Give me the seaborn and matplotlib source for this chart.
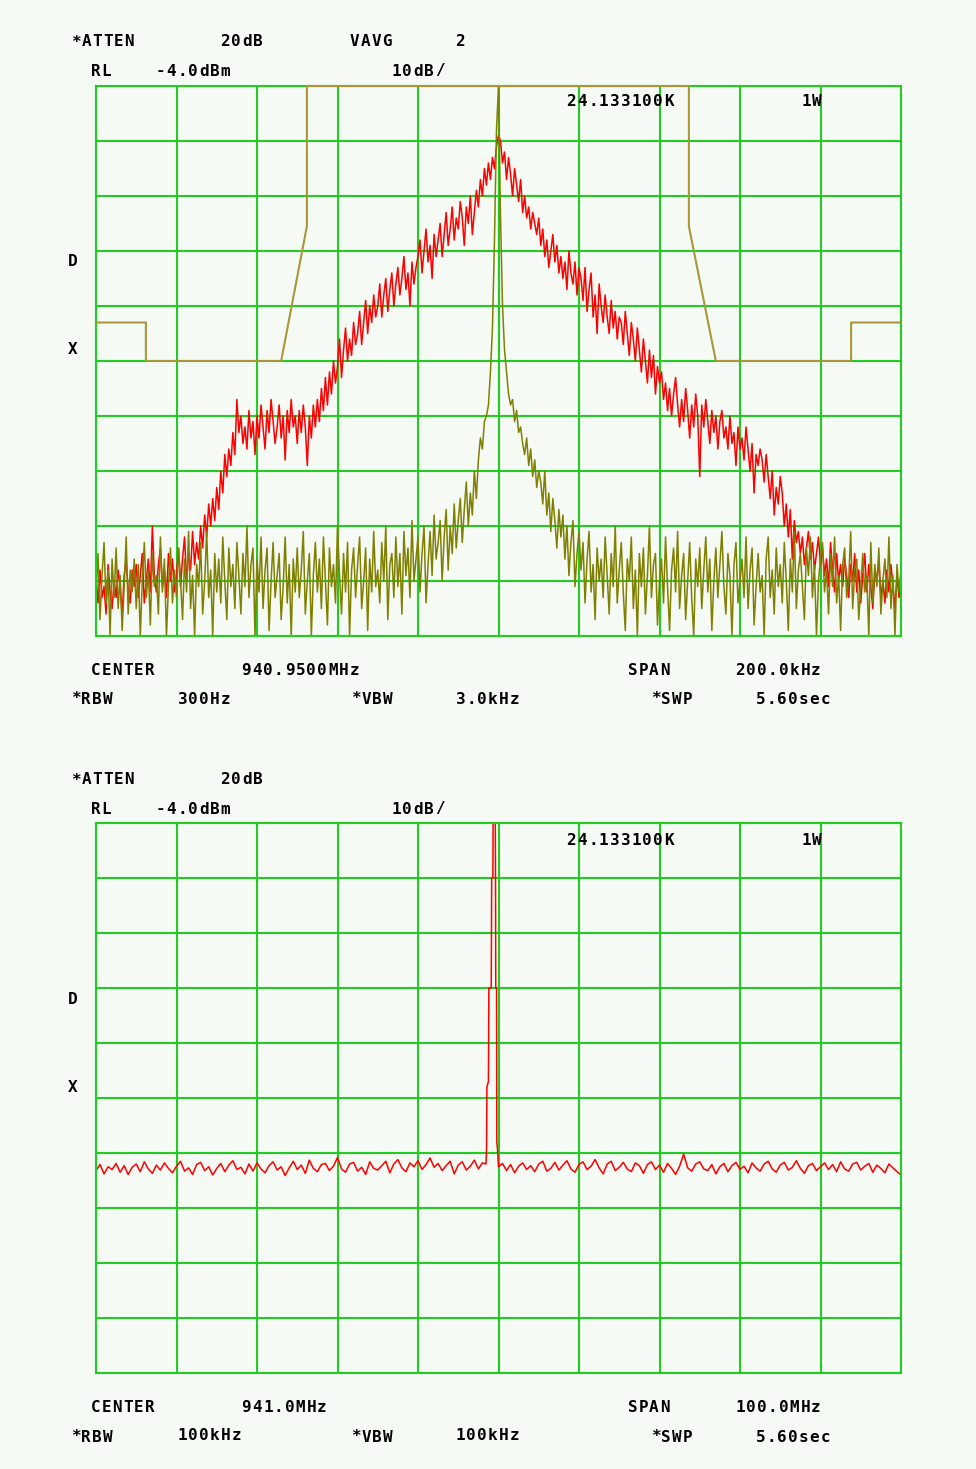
import numpy as np
import pandas as pd
import matplotlib.pyplot as plt
import seaborn as sns

# ---- sweep 1: span 200 kHz around 940.95 MHz, one point per 0.5 kHz ----
top_offset_khz = np.arange(-100, 100.25, 0.5)

top_red_db = [
    -93, -98, -92, -97, -95, -100, -91, -96, -99, -94,
    -97, -92, -95, -100, -93, -90, -96, -98, -92, -95,
    -91, -97, -93, -89, -98, -94, -90, -96, -84, -93,
    -96, -91, -88, -95, -92, -97, -89, -94, -90, -96,
    -93, -88, -95, -90, -86, -94, -89, -92, -85, -91,
    -87, -90, -84, -88, -82, -86, -80, -84, -79, -83,
    -77, -81, -74, -78, -71, -75, -70, -73, -67, -71,
    -61, -67, -64, -69, -66, -70, -63, -68, -65, -71,
    -64, -68, -62, -66, -70, -63, -67, -61, -65, -69,
    -66, -62, -68, -64, -72, -63, -67, -61, -66, -64,
    -69, -63, -67, -62, -66, -73, -64, -68, -62, -66,
    -61, -65, -59, -63, -57, -62, -56, -60, -54, -58,
    -55, -50, -57, -52, -48, -54, -50, -53, -47, -51,
    -49, -45, -51, -47, -43, -49, -44, -47, -42, -46,
    -44, -40, -46, -42, -39, -45, -41, -38, -44, -40,
    -37, -42, -39, -35, -41, -38, -44, -36, -40, -37,
    -35, -32, -38, -34, -30, -36, -33, -39, -31, -35,
    -32, -29, -35, -31, -27, -33, -30, -26, -32, -28,
    -30, -25, -28, -33, -26, -29, -24, -31, -27, -23,
    -26, -21, -24, -19, -22, -18, -21, -17, -19, -15,
    -13,
    -14, -18, -16, -21, -17, -20, -24, -19, -22, -25,
    -21, -27, -24, -28, -26, -30, -27, -29, -31, -28,
    -33, -30, -35, -32, -37, -34, -31, -36, -33, -38,
    -35, -39, -36, -41, -34, -38, -40, -36, -42, -37,
    -39, -43, -37, -45, -41, -38, -46, -42, -49, -40,
    -44, -47, -42, -46, -49, -43, -48, -45, -50, -46,
    -47, -51, -45, -49, -53, -47, -50, -54, -48, -52,
    -56, -50, -54, -58, -52, -57, -53, -60, -55, -58,
    -56, -61, -58, -63, -59, -64, -60, -57, -62, -66,
    -61, -65, -59, -63, -68, -62, -66, -60, -64, -75,
    -62, -66, -61, -65, -69, -63, -67, -64, -70, -65,
    -63, -68, -66, -70, -64, -69, -67, -73, -66, -70,
    -68, -72, -66, -70, -74, -69, -78, -71, -73, -70,
    -72, -76, -71, -75, -79, -74, -82, -77, -80, -75,
    -78, -84, -80, -86, -81, -90, -83, -87, -85, -89,
    -86, -91, -88, -85, -90, -87, -92, -89, -86, -91,
    -88, -93, -90, -95, -87, -92, -96, -89, -94, -91,
    -95, -90, -93, -97, -91, -94, -89, -96, -92, -98,
    -93, -89, -96, -91, -95, -99, -92, -94, -90, -97,
    -94, -98, -92, -96, -91, -95, -99, -93, -97, -94,
]

top_olive_db = [
    -96, -89, -101, -93, -87, -98, -92, -104, -90, -97,
    -88, -99, -93, -103, -95, -86, -100, -92, -96, -90,
    -99, -91, -104, -94, -87, -97, -92, -102, -89, -95,
    -93, -100, -86, -96, -90, -104, -95, -88, -98, -92,
    -97, -88, -94, -101, -90, -96, -85, -99, -93, -104,
    -91, -95, -87, -100, -94, -85, -97, -92, -104, -89,
    -96, -90, -98, -86, -94, -101, -88, -95, -91, -99,
    -87, -93, -100, -89, -95, -84, -97, -91, -88, -104,
    -90, -96, -86, -99, -92, -88, -103, -94, -87, -97,
    -93, -89, -101, -95, -86, -98, -91, -104, -90, -96,
    -88, -97, -92, -85, -100, -94, -89, -104, -93, -87,
    -96, -90, -99, -86, -94, -102, -88, -95, -91, -98,
    -84, -93, -100, -89, -96, -87, -104, -92, -88, -97,
    -91, -86, -99, -94, -88, -103, -90, -96, -85, -95,
    -92, -98, -87, -94, -84, -101, -91, -89, -97, -86,
    -95, -89, -100, -85, -93, -88, -97, -83, -94, -90,
    -86, -96, -89, -84, -98, -91, -85, -93, -82, -90,
    -87, -83, -94, -86, -81, -92, -84, -89, -80, -88,
    -83, -79, -87, -81, -76, -84, -78, -82, -74, -79,
    -72, -68, -70, -65, -64, -62, -56, -48, -32, -12,
    -4,
    -28, -44, -52, -56, -60, -62, -61, -65, -63, -67,
    -66, -69, -71, -68, -73, -70, -75, -72, -77, -74,
    -76, -80, -74, -82, -78, -85, -79, -83, -88, -81,
    -86, -82, -90, -84, -93, -87, -83, -95, -89, -85,
    -92, -87, -98, -90, -85, -96, -91, -101, -88, -94,
    -90, -97, -86, -93, -100, -89, -95, -84, -98, -92,
    -87, -96, -103, -90, -94, -86, -99, -92, -104, -89,
    -95, -88, -100, -93, -84, -97, -91, -89, -102, -94,
    -90, -98, -86, -95, -103, -92, -88, -96, -85, -99,
    -93, -89, -101, -94, -87, -97, -104, -90, -95, -88,
    -99, -92, -86, -96, -90, -103, -94, -88, -97, -91,
    -85, -95, -100, -89, -93, -104, -91, -87, -98, -94,
    -90, -97, -86, -99, -92, -88, -102, -95, -89, -96,
    -93, -104, -90, -86, -97, -92, -100, -88, -95, -91,
    -98, -87, -94, -103, -90, -96, -85, -99, -92, -89,
    -95, -101, -88, -93, -86, -97, -91, -104, -94, -90,
    -87, -96, -92, -100, -89, -95, -86, -98, -93, -103,
    -91, -88, -97, -94, -85, -99, -92, -90, -101, -95,
    -89, -96, -93, -104, -87, -98, -91, -95, -88, -100,
    -94, -90, -97, -86, -99, -93, -104, -91, -96, -92,
]

# limit-line mask
mask_offset_khz = [-100, -87.6, -87.6, -54.0, -47.6, -47.6, 47.3, 47.3, 54.0, 87.6, 87.6, 100]
mask_db = [-47, -47, -54, -54, -29.5, -4, -4, -29.5, -54, -54, -47, -47]

# ---- sweep 2: span 100 MHz around 941.0 MHz, one point per 0.5 MHz ----
bot_freq_mhz = np.arange(891.0, 991.25, 0.5)

bot_noise_db = [
    -67.2, -66.1, -67.8, -66.5, -67.0, -65.9, -67.5, -66.3, -67.9, -66.6,
    -66.0, -67.4, -65.6, -66.9, -67.7, -66.2, -67.1, -65.8, -66.8, -67.6,
    -66.4, -65.5, -67.3, -66.7, -67.9, -66.1, -65.7, -67.2, -66.5, -68.0,
    -66.8, -65.9, -67.4, -66.2, -65.4, -67.0, -66.6, -67.8, -66.0, -67.3,
    -65.8, -66.9, -67.6, -66.3, -65.6, -67.1, -66.5, -68.1, -66.7, -65.5,
    -67.0, -66.2, -67.7, -65.3, -66.8, -67.4, -66.1, -65.9, -67.2, -66.4,
    -64.8, -66.9, -67.5, -66.0, -65.7, -67.3, -66.6, -67.9, -65.6, -66.8,
    -67.1, -66.3, -65.5, -67.6, -66.0, -65.2, -66.7, -67.4, -65.8, -66.5,
    -65.4, -67.0, -66.1, -64.9, -66.6, -65.9, -67.2, -66.3, -65.5, -67.8,
    -66.2, -65.6, -67.1, -66.4, -65.3, -66.9, -65.8, -67.3, -66.5, -65.7,
    -66.5, -65.9, -67.2, -66.1, -67.6, -66.4, -65.8, -67.0, -66.3, -67.4,
    -66.0, -65.5, -67.3, -66.8, -65.7, -67.1, -66.2, -65.4, -66.9, -67.5,
    -66.1, -65.6, -67.0, -66.4, -65.2, -66.7, -67.8, -66.0, -65.5, -67.2,
    -66.6, -65.7, -66.9, -67.4, -65.8, -66.3, -67.7, -66.1, -65.6, -67.0,
    -66.2, -67.5, -65.9, -66.8, -67.9, -66.4, -64.2, -66.7, -67.3, -66.0,
    -65.6, -66.9, -67.2, -66.1, -67.8, -66.5, -65.9, -67.4, -66.3, -65.7,
    -67.0, -66.4, -67.6, -65.8, -66.7, -67.3, -66.0, -65.5, -66.9, -67.5,
    -66.2, -65.7, -67.1, -66.6, -65.4, -66.8, -67.7, -66.3, -65.9, -67.2,
    -66.5, -65.8, -67.0, -66.1, -67.4, -65.6, -66.9, -67.3, -66.0, -65.7,
    -67.1, -66.4, -65.9, -67.5, -66.2, -66.8, -67.6, -66.0, -66.7, -67.4,
    -68.0,
]

# carrier spike of sweep 2
peak_freq_mhz = [939.45, 939.52, 939.56, 939.75, 939.8, 940.1, 940.15, 940.3, 940.33,
                 940.6, 940.63, 940.66, 940.76, 940.79, 940.86]
peak_db = [-66, -63, -52, -51, -34, -34, -14, -14, -4,
           -4, -14, -34, -34, -62, -63]

# ---- style ----
W, H = 976, 1469
BG = "#f5faf5"
GRID = "#22cc22"
RED = "#ff0000"
OLIVE = "#808000"
MASK = "#a8983a"

sns.set_style("white", rc={"axes.facecolor": BG, "figure.facecolor": BG})
plt.rcParams["font.family"] = ["DejaVu Sans Mono", "DejaVu Sans"]

fig = plt.figure(figsize=(W / 100, H / 100), dpi=100)


def make_axes(top_px, xlim, xticks):
    ax = fig.add_axes([96 / W, 1 - (top_px + 550) / H, 805 / W, 550 / H])
    ax.set_xlim(*xlim)
    ax.set_ylim(-104, -4)
    ax.set_xticks(xticks)
    ax.set_yticks(np.arange(-104, -3, 10))
    ax.tick_params(length=0, labelbottom=False, labelleft=False)
    ax.grid(True, color=GRID, linewidth=1.5)
    ax.set_axisbelow(True)
    for sp in ax.spines.values():
        sp.set_color(GRID)
        sp.set_linewidth(1.5)
    return ax


PITCH = 10.8  # character pitch of the analyzer font, px


def put(x, y, s):
    # fixed-pitch placement, one glyph per cell, baseline about 5 px below centre
    for i, ch in enumerate(s):
        fig.text((x + PITCH * (i + 0.5)) / W, 1 - (y + 5.5) / H, ch,
                 ha="center", va="baseline",
                 fontsize=11.5, fontweight="bold", color="black")


# top panel
ax1 = make_axes(86, (-100, 100), np.arange(-100, 101, 20))
sns.lineplot(x=top_offset_khz, y=top_red_db, color=RED, linewidth=1.1,
             estimator=None, ax=ax1)
sns.lineplot(x=top_offset_khz, y=top_olive_db, color=OLIVE, linewidth=1.1,
             estimator=None, ax=ax1)
sns.lineplot(x=mask_offset_khz, y=mask_db, color=MASK, linewidth=1.5,
             sort=False, estimator=None, ax=ax1)
ax1.lines[-1].set_clip_on(False)
ax1.lines[-1].set_zorder(4)
ax1.set_xlabel("")
ax1.set_ylabel("")

# bottom panel
keep = (bot_freq_mhz < 939.4) | (bot_freq_mhz > 940.9)
bot = pd.DataFrame({
    "freq": np.concatenate([bot_freq_mhz[keep], peak_freq_mhz]),
    "level": np.concatenate([np.array(bot_noise_db)[keep], peak_db]),
}).sort_values("freq")
ax2 = make_axes(823, (891, 991), np.arange(891, 992, 10))
sns.lineplot(data=bot, x="freq", y="level", color=RED, linewidth=1.1,
             estimator=None, ax=ax2)
ax2.set_xlabel("")
ax2.set_ylabel("")

# annotation text
for dy, first in [(0, True), (738, False)]:
    put(70, 41 + dy, "*ATTEN")
    put(220, 41 + dy, "20dB")
    if first:
        put(349, 41 + dy, "VAVG")
        put(455, 41 + dy, "2")
    put(90, 70 + dy, "RL")
    put(155, 70 + dy, "-4.0dBm")
    put(391, 70 + dy, "10dB/")
    put(566, 101 + dy, "24.133100K")
    put(801, 101 + dy, "1W")
    put(67, 261 + dy, "D")
    put(67, 349 + dy, "X")
    put(90, 669 + dy, "CENTER")
    put(627, 669 + dy, "SPAN")
    put(70, 698 + dy, "*RBW")
    put(350, 698 + dy, "*VBW")
    put(650, 698 + dy, "*SWP")
    put(755, 698 + dy, "5.60sec")

put(241, 669, "940.9500MHz")
put(735, 669, "200.0kHz")
put(177, 698, "300Hz")
put(455, 698, "3.0kHz")
put(241, 1406, "941.0MHz")
put(735, 1406, "100.0MHz")
put(177, 1435, "100kHz")
put(455, 1435, "100kHz")

fig.savefig("out.png", dpi=100, facecolor=BG)
